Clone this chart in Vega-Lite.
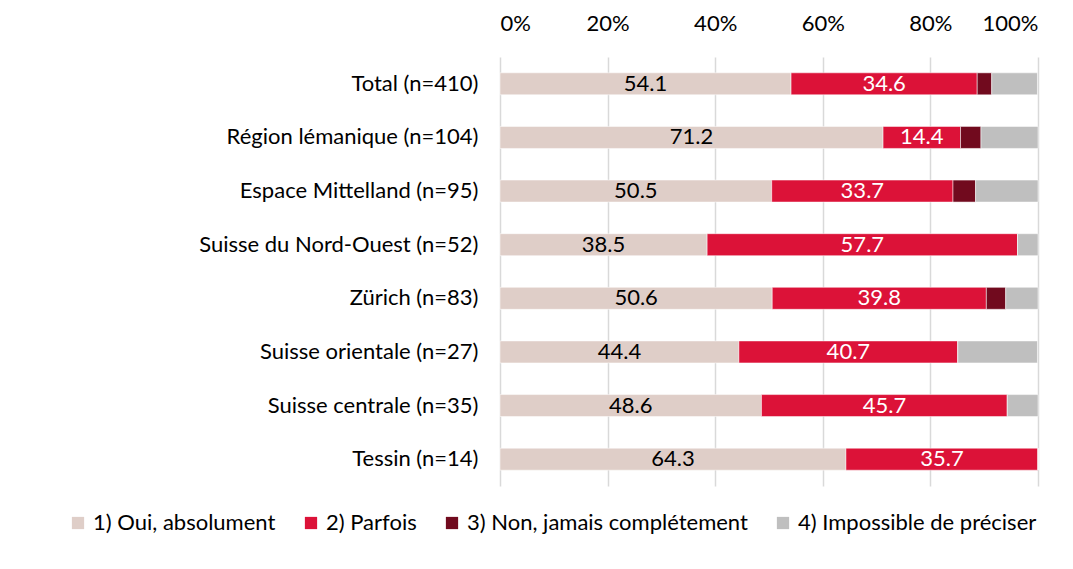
{
  "$schema": "https://vega.github.io/schema/vega-lite/v6.json",
  "autosize": "none",
  "width": 538,
  "height": 429,
  "padding": {"left": 500, "top": 57, "right": 35, "bottom": 83},
  "background": "white",
  "config": {
    "font": "Lato",
    "view": {"stroke": null},
    "axis": {"labelFont": "Lato", "labelFontSize": 22, "labelColor": "#000000", "labelLimit": 0},
    "legend": {"labelFont": "Lato", "labelFontSize": 22, "labelColor": "#000000", "labelLimit": 0}
  },
  "data": {
    "values": [
      {"region": "Total (n=410)", "cat": "1) Oui, absolument", "k": 1, "value": 54.1},
      {"region": "Total (n=410)", "cat": "2) Parfois", "k": 2, "value": 34.6},
      {"region": "Total (n=410)", "cat": "3) Non, jamais complétement", "k": 3, "value": 2.7},
      {"region": "Total (n=410)", "cat": "4) Impossible de préciser", "k": 4, "value": 8.5},
      {"region": "Région lémanique (n=104)", "cat": "1) Oui, absolument", "k": 1, "value": 71.2},
      {"region": "Région lémanique (n=104)", "cat": "2) Parfois", "k": 2, "value": 14.4},
      {"region": "Région lémanique (n=104)", "cat": "3) Non, jamais complétement", "k": 3, "value": 3.8},
      {"region": "Région lémanique (n=104)", "cat": "4) Impossible de préciser", "k": 4, "value": 10.6},
      {"region": "Espace Mittelland (n=95)", "cat": "1) Oui, absolument", "k": 1, "value": 50.5},
      {"region": "Espace Mittelland (n=95)", "cat": "2) Parfois", "k": 2, "value": 33.7},
      {"region": "Espace Mittelland (n=95)", "cat": "3) Non, jamais complétement", "k": 3, "value": 4.2},
      {"region": "Espace Mittelland (n=95)", "cat": "4) Impossible de préciser", "k": 4, "value": 11.6},
      {"region": "Suisse du Nord-Ouest (n=52)", "cat": "1) Oui, absolument", "k": 1, "value": 38.5},
      {"region": "Suisse du Nord-Ouest (n=52)", "cat": "2) Parfois", "k": 2, "value": 57.7},
      {"region": "Suisse du Nord-Ouest (n=52)", "cat": "3) Non, jamais complétement", "k": 3, "value": 0},
      {"region": "Suisse du Nord-Ouest (n=52)", "cat": "4) Impossible de préciser", "k": 4, "value": 3.8},
      {"region": "Zürich (n=83)", "cat": "1) Oui, absolument", "k": 1, "value": 50.6},
      {"region": "Zürich (n=83)", "cat": "2) Parfois", "k": 2, "value": 39.8},
      {"region": "Zürich (n=83)", "cat": "3) Non, jamais complétement", "k": 3, "value": 3.6},
      {"region": "Zürich (n=83)", "cat": "4) Impossible de préciser", "k": 4, "value": 6.0},
      {"region": "Suisse orientale (n=27)", "cat": "1) Oui, absolument", "k": 1, "value": 44.4},
      {"region": "Suisse orientale (n=27)", "cat": "2) Parfois", "k": 2, "value": 40.7},
      {"region": "Suisse orientale (n=27)", "cat": "3) Non, jamais complétement", "k": 3, "value": 0},
      {"region": "Suisse orientale (n=27)", "cat": "4) Impossible de préciser", "k": 4, "value": 14.8},
      {"region": "Suisse centrale (n=35)", "cat": "1) Oui, absolument", "k": 1, "value": 48.6},
      {"region": "Suisse centrale (n=35)", "cat": "2) Parfois", "k": 2, "value": 45.7},
      {"region": "Suisse centrale (n=35)", "cat": "3) Non, jamais complétement", "k": 3, "value": 0},
      {"region": "Suisse centrale (n=35)", "cat": "4) Impossible de préciser", "k": 4, "value": 5.7},
      {"region": "Tessin (n=14)", "cat": "1) Oui, absolument", "k": 1, "value": 64.3},
      {"region": "Tessin (n=14)", "cat": "2) Parfois", "k": 2, "value": 35.7},
      {"region": "Tessin (n=14)", "cat": "3) Non, jamais complétement", "k": 3, "value": 0},
      {"region": "Tessin (n=14)", "cat": "4) Impossible de préciser", "k": 4, "value": 0}
    ]
  },
  "transform": [
    {"stack": "value", "groupby": ["region"], "sort": [{"field": "k", "order": "ascending"}], "as": ["v0", "v1"]},
    {"calculate": "(datum.v0 + datum.v1) / 2", "as": "mid"}
  ],
  "encoding": {
    "y": {
      "field": "region", "type": "nominal", "sort": null,
      "scale": {"paddingInner": 0.59, "paddingOuter": 0.295},
      "axis": {"title": null, "ticks": false, "domain": false, "labelPadding": 22}
    }
  },
  "layer": [
    {
      "mark": {"type": "bar", "stroke": "white", "strokeWidth": 0.5},
      "encoding": {
        "x": {
          "field": "v0", "type": "quantitative",
          "scale": {"domain": [0, 100], "nice": false},
          "axis": {
            "orient": "top", "title": null, "values": [0, 20, 40, 60, 80, 100],
            "labelExpr": "datum.value + '%'", "grid": true, "gridColor": "#D9D9D9",
            "gridWidth": 1.5, "domain": false, "ticks": false, "labelPadding": 22
          }
        },
        "x2": {"field": "v1"},
        "color": {
          "field": "cat", "type": "nominal",
          "scale": {
            "domain": ["1) Oui, absolument", "2) Parfois", "3) Non, jamais complétement", "4) Impossible de préciser"],
            "range": ["#DFCEC8", "#DC1238", "#710A1E", "#BFBFBF"]
          },
          "legend": {
            "title": null, "orient": "none", "direction": "horizontal", "columns": 4,
            "legendX": -433, "legendY": 455, "symbolType": "square", "symbolSize": 150,
            "symbolStrokeWidth": 0, "columnPadding": 24, "labelOffset": 4
          }
        }
      }
    },
    {
      "transform": [{"filter": "datum.k <= 2"}],
      "mark": {"type": "text", "fontSize": 22, "font": "Lato", "baseline": "middle", "align": "center"},
      "encoding": {
        "x": {"field": "mid", "type": "quantitative"},
        "text": {"field": "value", "type": "quantitative", "format": ".1f"},
        "color": {
          "condition": {"test": "datum.k == 2", "value": "white"},
          "value": "black"
        }
      }
    }
  ]
}
